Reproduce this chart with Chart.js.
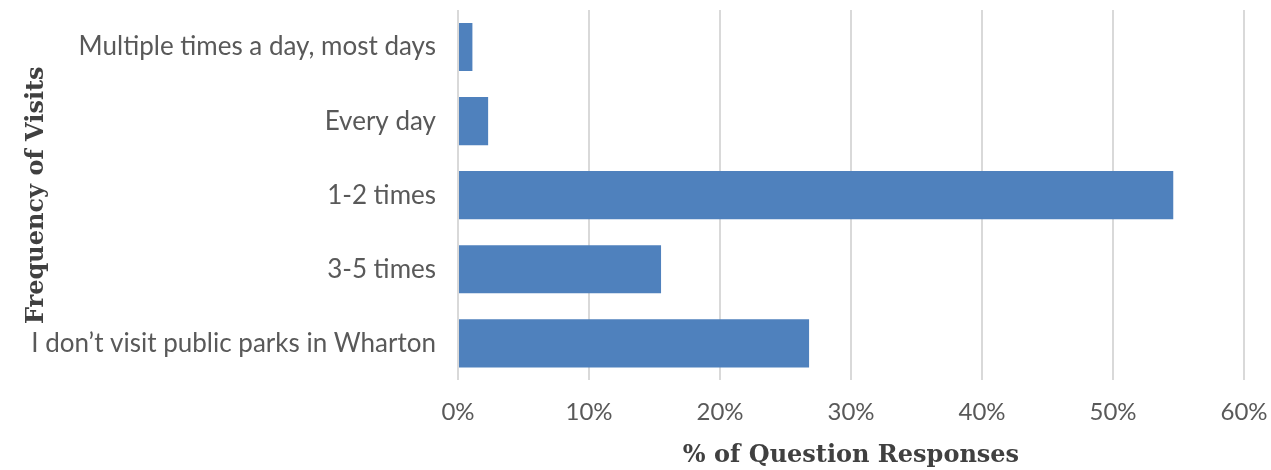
<!DOCTYPE html>
<html><head><meta charset="utf-8">
<script src="https://cdn.jsdelivr.net/npm/chart.js@4"></script>
<style>html,body{margin:0;padding:0;background:#fff}#wrap{width:1271px;height:470px}</style>
</head><body><div id="wrap"><canvas id="c" width="1271" height="470"></canvas></div>
<script>
const categories = ["Multiple times a day, most days", "Every day", "1-2 times", "3-5 times", "I don\u2019t visit public parks in Wharton"];
const values = [1.1, 2.3, 54.6, 15.5, 26.8];
const xTicks = [0, 10, 20, 30, 40, 50, 60];
const xTitle = "% of Question Responses";
const yTitle = "Frequency of Visits";

new Chart(document.getElementById('c'), {
  type: 'bar',
  data: { labels: categories, datasets: [{ data: values, backgroundColor: '#4f81bd', borderWidth: 0, barPercentage: 0.65, categoryPercentage: 1 }] },
  options: {
    indexAxis: 'y', responsive: false, animation: false,
    layout: { padding: { left: 22, right: 27, top: 10, bottom: 0 } },
    plugins: { legend: { display: false }, tooltip: { enabled: false } },
    scales: {
      x: {
        min: 0, max: 60,
        afterBuildTicks: s => { s.ticks = xTicks.map(v => ({ value: v })); },
        afterFit: s => { s.paddingLeft = 0; s.paddingRight = 0; s.height = s.height - 15; },
        grid: { color: '#d9d9d9', lineWidth: 2, drawTicks: false },
        border: { display: false },
        ticks: { color: '#595959', font: { family: 'Lato', size: 24 }, padding: 17, callback: v => v + '%' },
        title: { display: true, text: xTitle, color: '#404040', font: { family: 'DejaVu Serif', size: 24, weight: 'bold' }, padding: { top: 13, bottom: 0 } }
      },
      y: {
        afterFit: s => { s.paddingTop = 0; s.paddingBottom = 0; s.width = 436; },
        grid: { display: false, drawTicks: false },
        border: { display: false },
        ticks: { color: '#595959', font: { family: 'Lato', size: 26 }, padding: 22 },
        title: { display: true, text: yTitle, color: '#404040', font: { family: 'DejaVu Serif', size: 24, weight: 'bold' }, padding: { top: 0, bottom: 0 } }
      }
    }
  }
});
</script></body></html>
